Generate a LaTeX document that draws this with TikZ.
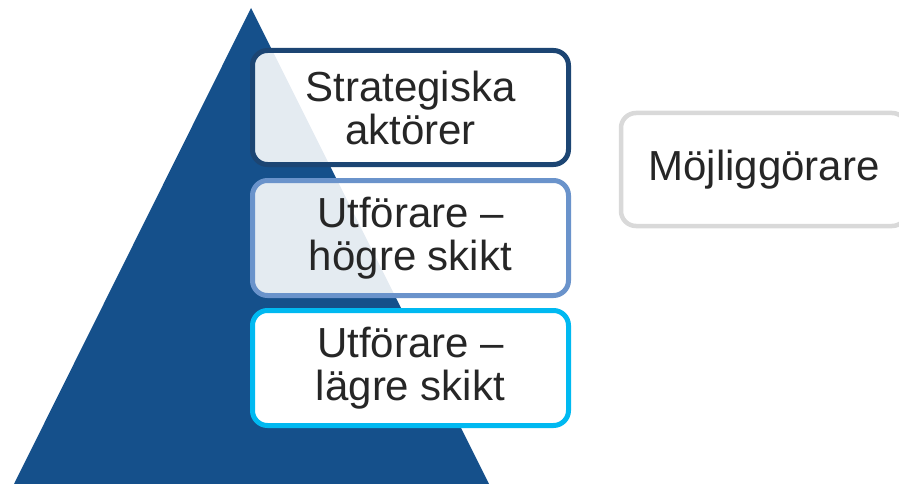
\documentclass[tikz,border=0pt]{standalone}
\usepackage{fontspec}
\setmainfont{Liberation Sans}
\definecolor{tri}{HTML}{15508B}
\definecolor{bA}{HTML}{1C4573}
\definecolor{bB}{HTML}{6A93CB}
\definecolor{bC}{HTML}{00B9F1}
\definecolor{bD}{HTML}{D9D9D9}
\definecolor{txt}{HTML}{262626}
\tikzset{
  layerbox/.style={draw, line width=5pt, rounded corners=15pt, fill=white,
    minimum width=316pt, minimum height=115pt, inner sep=0pt,
    align=center, text=txt, font=\fontsize{42}{43}\selectfont},
}
\begin{document}
\begin{tikzpicture}[x=1pt,y=-1pt]
\useasboundingbox (0,0) rectangle (899,484);
\clip (0,0) rectangle (899,484);
\coordinate (apex) at (251,8);
\coordinate (bl) at (14,484);
\coordinate (br) at (489,484);
\fill[tri] (apex) -- (bl) -- (br) -- cycle;
\node[layerbox, draw=bA, fill opacity=0.885, text opacity=1, minimum height=114pt] (s1) at (410.5,107.5) {Strategiska\\aktörer};
\node[layerbox, draw=bB, fill opacity=0.885, text opacity=1] (s2) at (410.5,238) {Utförare –\\högre skikt};
\node[layerbox, draw=bC] (s3) at (410.5,368) {Utförare –\\lägre skikt};
\node[layerbox, draw=bD, line width=4.5pt, minimum width=286pt, minimum height=113pt] (m) at (764,169.5) {Möjliggörare};
\end{tikzpicture}
\end{document}
